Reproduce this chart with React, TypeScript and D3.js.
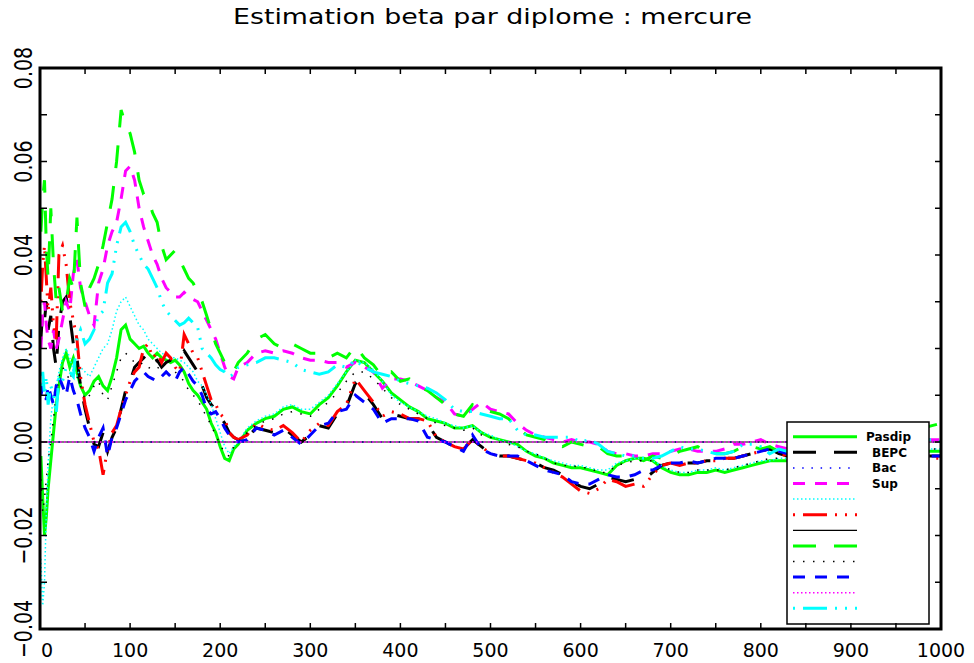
import React from "react";
import * as d3 from "d3";

// x positions shared by the estimated series
const X_GRID = [
  1, 3, 5, 7, 9, 12, 15, 18, 21, 25,
  29, 33, 37, 41, 45, 50, 55, 60, 65, 70,
  75, 80, 85, 90, 95, 100, 105, 110, 115, 120,
  125, 130, 135, 140, 145, 150, 155, 160, 165, 170,
  175, 180, 185, 190, 195, 200, 205, 210, 215, 220,
  230, 240, 250, 260, 270, 280, 290, 300, 310, 320,
  330, 340, 350, 360, 370, 380, 390, 400, 410, 420,
  430, 440, 450, 460, 470, 480, 490, 500, 510, 520,
  530, 540, 550, 560, 570, 580, 590, 600, 610, 620,
  630, 640, 650, 660, 670, 680, 690, 700, 710, 720,
  730, 740, 750, 760, 770, 780, 790, 800, 810, 820,
  830, 840, 850, 860, 870, 880, 890, 900, 910, 920,
  930, 940, 950, 960, 970, 980, 990, 1000,
];

// values in thousandths (x 0.001)
const PASDIP = [
  -3, -12, -20, -16, -10, -4, 2, 8, 12, 17,
  19, 16, 18, 15, 12, 10, 11, 13, 14, 12,
  11, 14, 18, 24, 25, 22, 21, 20, 20.5, 19,
  18, 19, 18, 17.5, 17, 17.5, 16.5, 15, 12.5, 11,
  10, 8.5, 7, 4, 2, -1, -3.5, -4, -1.5, -0.5,
  2.5, 4, 5, 5.5, 7, 7.5, 6.5, 6, 8, 9.5,
  12, 15, 17.5, 17, 15, 13, 10.5, 9, 7.5, 6.5,
  5, 4.5, 4, 3, 3, 3.5, 2, 1, 0.5, 0,
  -0.5, -2, -3, -3.5, -4.5, -5, -5.5, -5.5, -6, -6.5,
  -7, -5, -4, -3.5, -3.5, -4, -5.5, -6.5, -7, -7,
  -6.5, -6.5, -6, -6.5, -6, -5.5, -5, -4.5, -4, -4,
  -4, -3.5, -3.5, -3, -3, -3, -2.5, -2.5, -2.5, -2,
  -2, -2.5, -2, -2, -2.5, -2, -2, -2,
];

const BEPC = [
  22, 28, 26, 30, 24, 27, 20, 16, 25, 30,
  31, 27, 21, 18, 12, 7, 3, -0.5, -1, 2,
  -2, 1, 3, 7, 11, 13, 16, 17, 18, 19,
  17, 17.5, 16, 17, 17.5, 17, 18, 19.5, 18, 16.5,
  15, 12, 9.5, 8, 7, 5.5, 4, 2, 1, 0.5,
  1, 3, 2.5, 2, 3, 1.5, 0, 1.5, 3.5, 3,
  6, 7.5, 12.5, 10.5, 8, 5, 6, 5.5, 5, 5,
  4, 1, 0, -1, -1.5, 0.5, -1, -2.5, -3, -3,
  -3.5, -4, -4.5, -5.5, -6, -7, -8.5, -9.5, -10, -9,
  -7.5, -8, -8.5, -8, -8, -6.5, -5, -4.5, -4.5, -4.5,
  -4.5, -4, -4, -3.5, -3.5, -3, -2.5, -2, -1.5, -2.5,
  -3, -3, -3, -3, -3, -3.5, -3, -3, -3, -3,
  -3, -3, -3, -3, -3.5, -3, -3, -3,
];

const SUP = [
  20, 28, 30, 25, 22, 20, 24, 20, 22, 26,
  30, 28, 36, 39, 33, 30, 27, 25, 34, 37,
  42, 45, 47, 52, 58, 59, 56, 50, 46, 43,
  40, 38, 35, 33, 32, 31, 31, 32, 31, 30.5,
  30, 28, 26, 24, 22, 19, 16, 14, 13.5, 16,
  17, 19, 19.5, 19, 19.5, 19, 18, 17.5, 17.5, 17,
  17, 16, 17, 16, 15, 11.5, 13.5, 13.5, 13, 12,
  11, 9.5, 8.5, 6, 5.5, 7, 8.5, 7, 6.5, 6,
  4, 2.5, 1.5, 1, 0.5, 0, 0.5, 0, 0, -0.5,
  -2, -2.5, -2.5, -3, -3, -2.5, -2.5, -2, -1.5, -1.5,
  -2, -2, -2, -1.5, -0.5, -0.5, 0, 0.5, -0.5, -1,
  -1.5, -1, -1, -0.5, 0, 0, 0.5, 0.5, 0.5, 0.5,
  0.5, 0, 0, 0.5, 0.5, 0.5, 0.5, 0.5,
];

const CYAN_DOTTED = [
  -25, -35, -30, -15, -5, 5, 10, 12, 15, 18,
  20, 18, 15, 14, 16, 15, 14, 16, 18, 20,
  21, 24, 28, 30, 31, 29, 27, 25, 24, 22,
  21, 20, 19, 18.5, 18, 18, 17.5, 17, 16, 15,
  13, 12, 10, 8, 5, 2, -1, -2.5, -1, 0,
  3, 4.5, 5.5, 6, 7.5, 8, 7, 7, 8.5, 10,
  12.5, 15, 17.5, 17, 15.5, 13, 10, 8.5, 7.5, 6.5,
  5.5, 5, 4, 3.5, 3, 3.5, 2, 1.5, 0.5, 0,
  -1, -2, -2.5, -3.5, -4, -4.5, -5, -5, -5.5, -6,
  -6, -4.5, -4, -3.5, -3.5, -4, -5, -6, -6.5, -6.5,
  -6, -6, -5.5, -6, -5.5, -5, -4.5, -4, -4, -3.5,
  -3.5, -3, -3, -3, -2.5, -2.5, -2.5, -2, -2, -2,
  -2, -2, -2, -1.5, -2, -1.5, -1.5, -1.5,
];

const RED_DASHDOT = [
  30, 38, 42, 35, 28, 33, 25, 22, 40, 42,
  38, 30, 26, 22, 14, 8, 4, 0, -1.5, -7,
  -1.5, 2, 3.5, 7, 10, 13, 15, 16, 20, 21,
  18, 19, 17, 19, 18, 16, 15, 23, 21, 19,
  18, 15, 12, 9, 8, 6, 5, 2, 1, 0.5,
  1.5, 4, 3, 2.5, 3.5, 2, 0, 2.5, 4, 3.5,
  6.5, 8, 13.5, 11, 8.5, 5.5, 6.5, 6, 5, 5,
  4.5, 1, 0, -1, -1.5, 0.5, -1, -2.5, -3, -3,
  -3.5, -4, -4.5, -5.5, -6.5, -7.5, -9, -10.5, -11, -10,
  -8, -8.5, -9.5, -9, -9.5, -7, -5, -4.5, -5, -4.5,
  -4.5, -4, -4, -3.5, -3.5, -3, -2.5, -2, -1.5, -2.5,
  -3, -3, -3, -3, -3.5, -3.5, -3, -3, -3, -3.5,
  -3, -3, -3, -3.5, -3.5, -3, -3.5, -3.5,
];

const GREEN_LONGDASH = [
  45, 52, 56, 42, 35, 50, 38, 30, 33, 28,
  30, 35, 33, 48, 34, 29, 33, 35, 38, 42,
  47, 52, 60, 71, 68, 66, 62, 56, 53, 52,
  49, 47, 42, 39, 40, 41, 39, 37, 35, 34,
  32, 30, 27, 24, 21, 19, 17, 16, 15, 17,
  19, 22, 23, 21, 20, 21, 20, 19, 19, 18,
  19, 18, 20.5, 18, 16.5, 14, 15, 13, 13.5, 12,
  11, 9.5, 8, 6, 5.5, 8, 7, 6.5, 6, 5,
  3, 1.5, 1, 0.5, -0.5, -1, 0, -0.5, -1, -1,
  -2.5, -3, -3, -3.5, -4, -3, -3.5, -3, -2, -1.5,
  -1, -2, -2.5, -2.5, -2, -1, -1, -1.5, -1, -2,
  -2.5, -2, -1.5, -1, -0.5, 0, 0.5, 1, 1, 1.5,
  1.5, 2, 2, 2.5, 2.5, 3, 3.5, 4,
];

const BLACK_DOTTED = [
  -8, -15, -12, -8, -4, 0, 5, 10, 14, 16,
  15, 13, 16, 14, 12, 9, 10, 12, 13, 10,
  9, 12, 15, 18, 19, 18, 17, 16.5, 17, 16,
  15.5, 16, 15.5, 15, 14.5, 15, 14, 13, 11, 10,
  9, 7, 5.5, 3.5, 1.5, -0.5, -2.5, -3, -1, 0,
  2, 3.5, 4.5, 5, 6, 6.5, 6, 5.5, 7, 8.5,
  10.5, 13, 15, 15, 13.5, 11.5, 9.5, 8, 7, 6,
  5, 4, 3.5, 3, 2.5, 3, 1.5, 1, 0, -0.5,
  -1, -2, -2.5, -3.5, -4.5, -5, -5, -5.5, -5.5, -6.5,
  -6.5, -5, -4.5, -4, -4, -4, -5, -6, -6.5, -6.5,
  -6, -6, -6, -6, -5.5, -5, -4.5, -4, -3.5, -3.5,
  -3, -3, -3, -3, -2.5, -2.5, -2.5, -2, -2, -2,
  -2, -2.5, -2, -2, -2, -2, -1.5, -1.5,
];

const BLUE_DASHED = [
  10, 12, 11, 9, 12, 10, 8, 12, 14, 12,
  10, 14, 11, 9, 6, 3, 1, -2, 1, 3,
  -3, 1, 3, 6, 9, 11, 13, 14, 15, 14,
  13.5, 13, 14, 15, 14, 13, 15, 16, 14.5, 13,
  12, 10, 7, 6, 6.5, 5, 3, 1.5, 0.5, 0,
  0.5, 3, 2.5, 1.5, 2.5, 1, -0.5, 1.5, 3.5, 4,
  6.5, 7, 10, 8.5, 7, 4, 5, 5, 5, 4.5,
  1, 0.5, 0, -1, -2, 1.5, -1.5, -2.5, -3, -3,
  -3, -4, -5, -6, -6.5, -7, -8.5, -9, -9, -8,
  -7, -7.5, -7.5, -7, -6, -6, -5, -4.5, -4.5, -4,
  -4.5, -4, -3.5, -3.5, -3.5, -3, -2.5, -2, -1.5, -2,
  -2.5, -3, -3, -3, -3, -3, -3, -3, -3, -3,
  -3, -3, -3, -3, -3, -3, -3, -3,
];

const CYAN_DASHDOT = [
  12, 15, 10, 14, 8, 12, 10, 6, 14, 13,
  16, 15, 14, 22, 24, 21, 22, 24, 27, 28,
  34, 36, 42, 46, 47, 45, 42, 40, 38, 37,
  35, 33, 30, 28, 27, 26, 25, 25.5, 26.5, 25.5,
  24.5, 20, 19, 18, 16.5, 15.5, 15, 14, 14.5, 16,
  16.5, 17, 18, 18, 17.5, 17, 15.5, 15, 14.5, 15,
  16.5, 16, 17.5, 16, 15, 14.5, 14, 13, 12.5, 12,
  11.5, 10.5, 9, 7, 6.5, 6.5, 6, 5.5, 5, 5,
  2.5, 1.5, 1.5, 1, 1, 1, 1, 0, 0.5, -0.5,
  -2, -2.5, -3, -3, -3.5, -3.5, -3, -2, -1, -1.5,
  -1.5, -2, -2.5, -2.5, -2, -0.5, -0.5, -1, -2.5, -1.5,
  -2, -1.5, -1, -0.5, -0.5, 0, 0, 0, 0.5, 0.5,
  1, 1, 0.5, 0.5, 1, 0.5, 0.5, 0,
];

// reference categories (constant zero)
const ZERO_X = [0, 1000];
const ZERO_Y = [0, 0];

const LEGEND_LABELS = ["Pasdip", "BEPC", "Bac", "Sup", "", "", "", "", "", "", "", ""];
const X_TICK_LABELS = [0, 100, 200, 300, 400, 500, 600, 700, 800, 900, 1000];
const Y_TICK_LABELS = [-0.04, -0.02, 0.0, 0.02, 0.04, 0.06, 0.08];
const X_MINOR = [50, 100, 150, 200, 250, 300, 350, 400, 450, 500, 550, 600, 650, 700, 750, 800, 850, 900, 950];
const Y_MINOR = [-0.03, -0.02, -0.01, 0, 0.01, 0.02, 0.03, 0.04, 0.05, 0.06, 0.07];
const TITLE = "Estimation beta par diplome : mercure";
const UNIT = 0.001;

type S = { xs: number[]; ys: number[]; unit: number; color: string; width: number; dash?: string };

const SERIES: S[] = [
  { xs: X_GRID, ys: PASDIP, unit: UNIT, color: "#00ff00", width: 3 },
  { xs: X_GRID, ys: BEPC, unit: UNIT, color: "#000000", width: 3, dash: "23 18" },
  { xs: ZERO_X, ys: ZERO_Y, unit: 1, color: "#0000ff", width: 1.5, dash: "1.5 7.7" },
  { xs: X_GRID, ys: SUP, unit: UNIT, color: "#ff00ff", width: 3, dash: "12 10" },
  { xs: X_GRID, ys: CYAN_DOTTED, unit: UNIT, color: "#00ffff", width: 1.5, dash: "1.5 2.5" },
  { xs: X_GRID, ys: RED_DASHDOT, unit: UNIT, color: "#ff0000", width: 3, dash: "2 8 24 8 2 8 2 8" },
  { xs: ZERO_X, ys: ZERO_Y, unit: 1, color: "#000000", width: 1.2 },
  { xs: X_GRID, ys: GREEN_LONGDASH, unit: UNIT, color: "#00ff00", width: 3, dash: "23 18" },
  { xs: X_GRID, ys: BLACK_DOTTED, unit: UNIT, color: "#000000", width: 1.5, dash: "1.5 8.5" },
  { xs: X_GRID, ys: BLUE_DASHED, unit: UNIT, color: "#0000ff", width: 3, dash: "12 10" },
  { xs: ZERO_X, ys: ZERO_Y, unit: 1, color: "#ff00ff", width: 1.5, dash: "1.5 2.5" },
  { xs: X_GRID, ys: CYAN_DASHDOT, unit: UNIT, color: "#00ffff", width: 3, dash: "2 8 24 8 2 8 2 8" },
];

const W = 974;
const H = 663;
const L = 40, R = 941, T = 68, B = 629;
const FONT = "'DejaVu Sans', sans-serif";

export default function App() {
  const x = d3.scaleLinear().domain([0, 1000]).range([L, R]);
  const y = d3.scaleLinear().domain([-0.04, 0.08]).range([B, T]);

  const lg = { x: 787, y: 422, w: 142, h: 202, row0: 436.7, step: 15.6, lx0: 793, lx1: 857 };

  return (
    <svg width={W} height={H} style={{ position: "absolute", left: 0, top: 0, background: "#fff" }}>
      <rect x={0} y={0} width={W} height={H} fill="#fff" />
      <text x={492.5} y={24} textAnchor="middle" fontFamily={FONT} fontSize={22} textLength={519} lengthAdjust="spacingAndGlyphs" fill="#000">
        {TITLE}
      </text>

      {SERIES.map((s, k) => {
        const line = d3
          .line<number>()
          .x((_, i) => x(s.xs[i]))
          .y((d) => y(d * s.unit));
        return (
          <path key={k} d={line(s.ys) || ""} fill="none" stroke={s.color} strokeWidth={s.width} strokeDasharray={s.dash} strokeLinejoin="miter" strokeLinecap="butt" />
        );
      })}

      {/* legend */}
      <rect x={lg.x} y={lg.y} width={lg.w} height={lg.h} fill="#fff" stroke="#000" strokeWidth={1.5} />
      {SERIES.map((s, i) => {
        const yy = lg.row0 + i * lg.step;
        return (
          <g key={i}>
            <line x1={lg.lx0} x2={lg.lx1} y1={yy} y2={yy} stroke={s.color} strokeWidth={s.width} strokeDasharray={s.dash} />
            {LEGEND_LABELS[i] && (
              <text x={i === 0 ? 866 : 872} y={yy + 4.5} fontFamily={FONT} fontSize={12} fontWeight="bold" fill="#000">
                {LEGEND_LABELS[i]}
              </text>
            )}
          </g>
        );
      })}

      {/* frame */}
      <rect x={L} y={T} width={R - L} height={B - T} fill="none" stroke="#000" strokeWidth={3} />
      {X_MINOR.map((v) => (
        <g key={"xm" + v}>
          <line x1={x(v)} x2={x(v)} y1={B} y2={B - 6} stroke="#000" strokeWidth={1.5} />
          <line x1={x(v)} x2={x(v)} y1={T} y2={T + 6} stroke="#000" strokeWidth={1.5} />
        </g>
      ))}
      {Y_MINOR.map((v) => (
        <g key={"ym" + v}>
          <line x1={L} x2={L + 7} y1={y(v)} y2={y(v)} stroke="#000" strokeWidth={1.5} />
          <line x1={R} x2={R - 6} y1={y(v)} y2={y(v)} stroke="#000" strokeWidth={1.5} />
        </g>
      ))}
      {X_TICK_LABELS.map((v, i) => (
        <text key={"xl" + v} x={x(v) + (i === 0 ? 7 : 0)} y={657} textAnchor="middle" fontFamily={FONT} fontSize={19} fill="#000">
          {String(v)}
        </text>
      ))}
      {Y_TICK_LABELS.map((v) => (
        <text key={"yl" + v} transform={`translate(32,${y(v)}) rotate(-90) scale(1,1.3)`} textAnchor="middle" fontFamily={FONT} fontSize={19} fill="#000">
          {(v < 0 ? "\u2212" : "") + Math.abs(v).toFixed(2)}
        </text>
      ))}
    </svg>
  );
}
